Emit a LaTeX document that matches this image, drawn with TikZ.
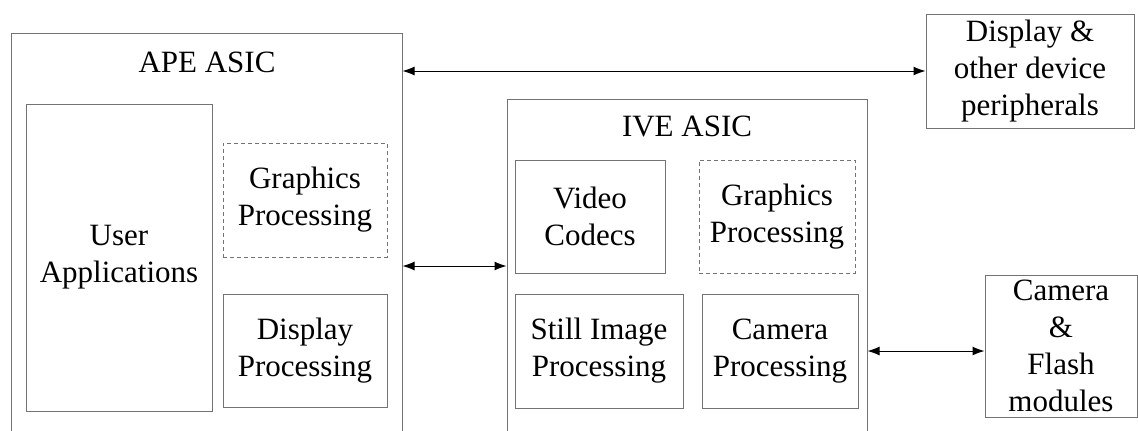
\documentclass[tikz,border=0pt]{standalone}
\usepackage{fontspec}
\setmainfont{Liberation Serif}
\usetikzlibrary{arrows.meta,positioning}
\tikzset{>={Latex[length=6pt,width=4.5pt]}}

\begin{document}
\begin{tikzpicture}[x=0.5pt, y=-0.5pt, font=\fontsize{15.5}{18.5}\selectfont,
    box/.style={draw=black!55, line width=0.5pt, inner sep=0pt, align=center},
    dashbox/.style={box, dash pattern=on 2pt off 1.5pt},
    link/.style={<->, line width=0.5pt}]
            \useasboundingbox (0,0) rectangle (1138,430);
            % the two chips, open at the bottom
            \node[box, minimum width=195.5pt, minimum height=213.5pt] (ape) at (206.5,246.5) {};
            \node[anchor=base] (ape-title) at (207,72) {APE ASIC};
            \node[box, minimum width=93pt, minimum height=153.5pt] (user-apps) at (119,257.5) {User\\Applications};
            \node[dashbox, minimum width=82pt, minimum height=57pt] (ape-gfx) at (305,200) {Graphics\\Processing};
            \node[box, minimum width=82pt, minimum height=56.5pt] (ape-disp) at (305,350.5) {Display\\Processing};
            \node[box, minimum width=180pt, minimum height=180.5pt] (ive) at (687,279.5) {};
            \node[anchor=base] (ive-title) at (687,136) {IVE ASIC};
            \node[box, minimum width=75pt, minimum height=56.5pt] (video) at (590,216.5) {Video\\Codecs};
            \node[dashbox, minimum width=78pt, minimum height=56.5pt] (ive-gfx) at (777,216.5) {Graphics\\Processing};
            \node[box, minimum width=84pt, minimum height=57pt] (still) at (599,351) {Still Image\\Processing};
            \node[box, minimum width=78pt, minimum height=57pt] (cam-proc) at (780,351) {Camera\\Processing};
            % outside devices
            \node[box, minimum width=104pt, minimum height=57pt] (periph) at (1030,71) {Display \&\\other device\\peripherals};
            \node[box, minimum width=76pt, minimum height=71pt] (cam-flash) at (1061,346) {Camera\\\&\\Flash\\modules};
            \coordinate (bus) at (455,266);
            \draw[link] (periph.west -| ape.east) -- (periph.west);
            \draw[link] (ape.east |- bus) -- (ive.west |- bus);
            \draw[link] (ive.east |- cam-proc) -- (cam-flash.west |- cam-proc);
        \end{tikzpicture}
\end{document}
